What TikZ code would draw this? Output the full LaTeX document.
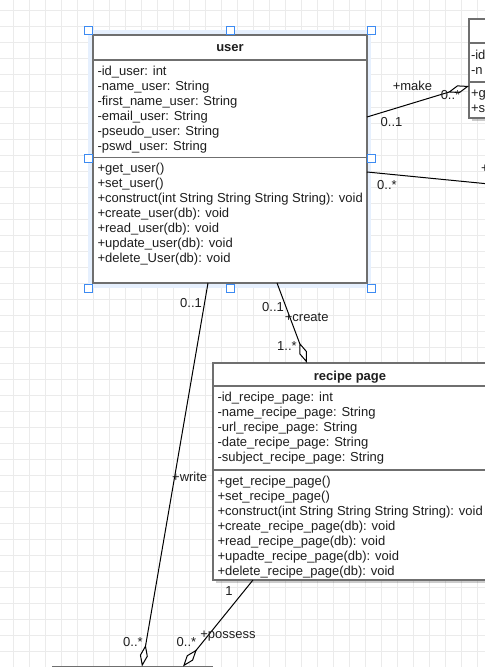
\documentclass[tikz,border=0pt]{standalone}
\usepackage{fontspec}
\setmainfont{Liberation Sans}
\usetikzlibrary{arrows.meta,calc,shadows}
\definecolor{gridc}{HTML}{EBEBEB}
\definecolor{boxc}{HTML}{6F6F6F}
\definecolor{selblue}{HTML}{3D8BF2}
\definecolor{haloc}{HTML}{E6F0FE}
\definecolor{txt}{HTML}{1E1E1E}
\begin{document}
\begin{tikzpicture}[x=0.75pt,y=-0.75pt,
 classbox/.style={draw=boxc, line width=1.1pt, fill=white, inner sep=0pt, outer sep=0pt, rectangle},
 shadowed/.style={drop shadow={shadow xshift=2.25pt, shadow yshift=-2.25pt, opacity=0.2, fill=black}},
 sepline/.style={draw=boxc, line width=1.1pt},
 member/.style={anchor=base west, inner sep=0pt, outer sep=0pt, font=\fontsize{9.75}{11}\selectfont, text=txt},
 classtitle/.style={anchor=base, inner sep=0pt, outer sep=0pt, font=\fontsize{9.75}{11}\selectfont\bfseries, text=txt},
 lbl/.style={anchor=base, inner sep=0pt, outer sep=0pt, font=\fontsize{9.75}{11}\selectfont, text=txt},
 assoc/.style={draw=black, line width=0.75pt},
 agg/.style={assoc, -{Diamond[length=16.5pt,width=6pt,fill=white]}},
 handle/.style={draw=selblue, fill=white, line width=0.75pt, minimum size=6pt, inner sep=0pt, outer sep=0pt, rectangle},
]
\useasboundingbox (0,0) rectangle (485,667);
\clip (0,0) rectangle (485,667);
\fill[white] (0,0) rectangle (485,667);
% grid
\foreach \gx in {13,29,...,485} \draw[gridc, line width=0.75pt] (\gx,0) -- (\gx,667);
\foreach \gy in {11,27,...,667} \draw[gridc, line width=0.75pt] (0,\gy) -- (485,\gy);

% selection halo
\fill[haloc] (88,30.5) rectangle (371,288);

% class boxes
\node[classbox, minimum width=205.5pt, minimum height=186pt] (user) at (230,159) {};
\node[classbox, shadowed, minimum width=205.5pt, minimum height=162.75pt] (recipe) at (350,471.5) {};
\node[classbox, shadowed, minimum width=68.25pt, minimum height=74.25pt] (cls3) at (514.5,68.5) {};
\node[classbox, shadowed, minimum width=119.25pt, minimum height=50.25pt] (cls4) at (132.5,700) {};

% separators
\draw[sepline] ($(user.north west)+(0,25)$) -- ($(user.north east)+(0,25)$);
\draw[sepline] ($(user.north west)+(0,122.7)$) -- ($(user.north east)+(0,122.7)$);
\draw[sepline] ($(recipe.north west)+(0,23)$) -- ($(recipe.north east)+(0,23)$);
\draw[sepline] ($(recipe.north west)+(0,107)$) -- ($(recipe.north east)+(0,107)$);
\draw[sepline] ($(cls3.north west)+(0,24)$) -- ($(cls3.north east)+(0,24)$);
\draw[sepline] ($(cls3.north west)+(0,63)$) -- ($(cls3.north east)+(0,63)$);

% user texts
\node[classtitle] (usert) at (230,52) {user};
\foreach \t [count=\i] in {-id\_user: int,-name\_user: String,-first\_name\_user: String,-email\_user: String,-pseudo\_user: String,-pswd\_user: String}
  \node[member] (ua\i) at (97.5,{75+15*(\i-1)}) {\t};
\foreach \t [count=\i] in {+get\_user(),+set\_user(),+construct(int String String String String): void,+create\_user(db): void,+read\_user(db): void,+update\_user(db): void,+delete\_User(db): void}
  \node[member] (um\i) at (97.5,{172.7+15*(\i-1)}) {\t};

% recipe texts
\node[classtitle] (recipet) at (350,380) {recipe page};
\foreach \t [count=\i] in {-id\_recipe\_page: int,-name\_recipe\_page: String,-url\_recipe\_page: String,-date\_recipe\_page: String,-subject\_recipe\_page: String}
  \node[member] (ra\i) at (217.5,{401.5+15*(\i-1)}) {\t};
\foreach \t [count=\i] in {+get\_recipe\_page(),+set\_recipe\_page(),+construct(int String String String String): void,+create\_recipe\_page(db): void,+read\_recipe\_page(db): void,+upadte\_recipe\_page(db): void,+delete\_recipe\_page(db): void}
  \node[member] (rm\i) at (217.5,{485+15*(\i-1)}) {\t};

% third class texts (cut by the edge)
\node[member] (ca1) at (471,59.3) {-id};
\node[member] (ca2) at (471,74.3) {-n};
\node[member] (cm1) at (471,97.3) {+g};
\node[member] (cm2) at (471,112.3) {+s};

% connectors
\coordinate (useEnd) at (530,188);
\draw[agg] ($(user.north east)+(0,82)$) -- ($(cls3.north west)+(0,67)$);
\draw[assoc] ($(user.north east)+(0,137)$) -- (useEnd);
\draw[agg] ($(user.south)+(-22,0)$) -- ($(cls4.north west)+(89,0)$);
\draw[agg] ($(user.south)+(47,0)$) -- ($(recipe.north west)+(94,0)$);
\draw[agg] ($(recipe.south west)+(40,0)$) -- ($(cls4.north west)+(130,0)$);

% connector labels
\node[lbl] (lmake) at (412.5,90.7) {+make};
\node[lbl] (lmake1) at (391.5,126) {0..1};
\node[lbl] (lmake2) at (450.5,99) {0..*};
\node[lbl] (luse1) at (387,189) {0..*};
\node[member] (luse) at (481,172.5) {+};
\node[lbl] (lw1) at (191,307) {0..1};
\node[lbl] (lwrite) at (189.7,481) {+write};
\node[lbl] (lw2) at (133,646) {0..*};
\node[lbl] (lc1) at (273,311.7) {0..1};
\node[lbl] (lcreate) at (306.7,321.5) {+create};
\node[lbl] (lc2) at (287,350) {1..*};
\node[lbl] (lp1) at (229,595) {1};
\node[lbl] (lp2) at (186.5,646) {0..*};
\node[lbl] (lposs) at (228,638) {+possess};

% selection handles
\node[handle] (h1) at (88,30.5) {};
\node[handle] (h2) at (230,30.5) {};
\node[handle] (h3) at (371,30.5) {};
\node[handle] (h4) at (88,158) {};
\node[handle] (h5) at (371,158) {};
\node[handle] (h6) at (88,288) {};
\node[handle] (h7) at (230,288) {};
\node[handle] (h8) at (371,288) {};
\end{tikzpicture}
\end{document}
